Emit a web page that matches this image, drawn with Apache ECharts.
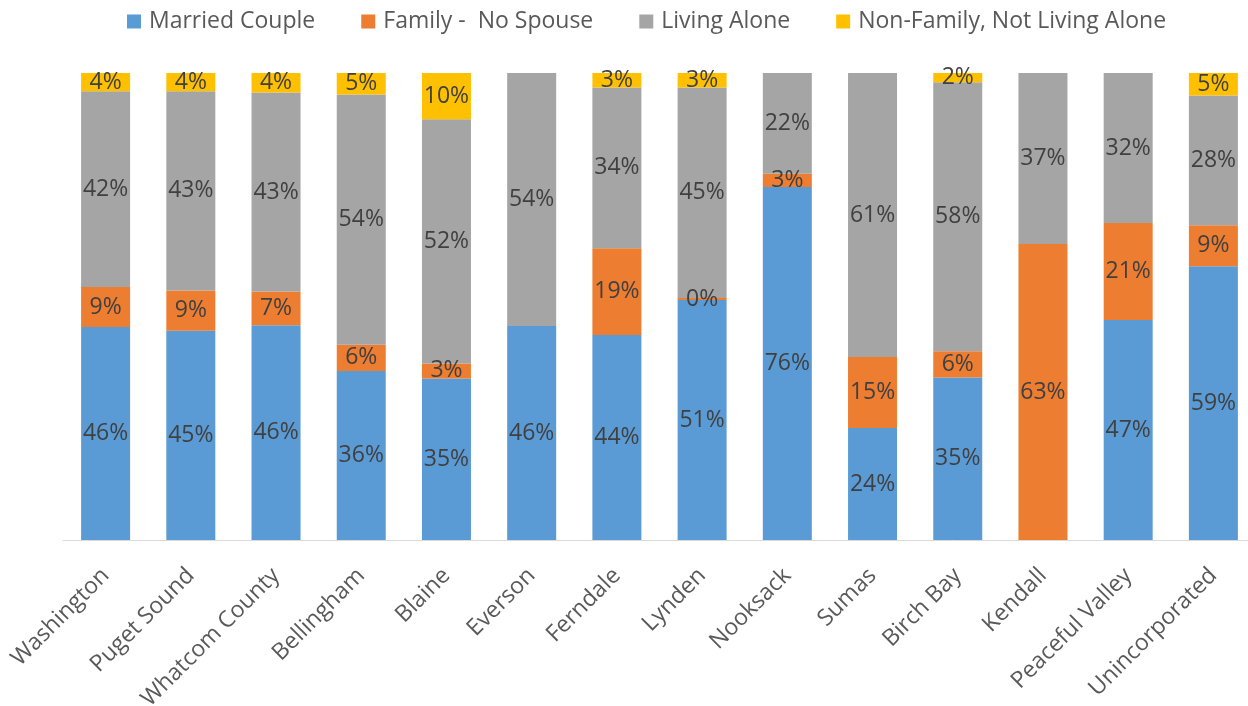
<!DOCTYPE html>
<html>
<head>
<meta charset="utf-8">
<script src="https://cdn.jsdelivr.net/npm/echarts@6/dist/echarts.min.js"></script>
<style>
html,body{margin:0;padding:0;background:#fff;}
#chart{width:1248px;height:706px;}
</style>
</head>
<body>
<div id="chart"></div>
<script>
var categories = ["Washington","Puget Sound","Whatcom County","Bellingham","Blaine","Everson","Ferndale","Lynden","Nooksack","Sumas","Birch Bay","Kendall","Peaceful Valley","Unincorporated"];
var marriedCouple = [45.6, 44.8, 46.0, 36.2, 34.6, 45.8, 43.9, 51.4, 75.6, 24.0, 34.8, null, 47.1, 58.6];
var familyNoSpouse = [8.6, 8.6, 7.2, 5.6, 3.2, null, 18.6, 0.4, 2.8, 15.2, 5.6, 63.4, 20.8, 8.8];
var livingAlone = [41.9, 42.7, 42.6, 53.6, 52.3, 54.2, 34.4, 45.1, 21.6, 60.8, 57.6, 36.6, 32.1, 27.8];
var nonFamily = [3.9, 3.9, 4.2, 4.6, 9.9, null, 3.1, 3.1, null, null, 2.0, null, null, 4.8];
var seriesNames = ["Married Couple", "Family -  No Spouse", "Living Alone", "Non-Family, Not Living Alone"];
var colors = ["#5B9BD5", "#ED7D31", "#A5A5A5", "#FFC000"];

var font = "'Open Sans', 'Noto Sans', sans-serif";
var chart = echarts.init(document.getElementById('chart'));
function mk(name, data, color) {
  return {
    name: name, type: 'bar', stack: 'total', data: data, barWidth: 49,
    itemStyle: { color: color },
    label: {
      show: true, position: 'inside', color: '#404040', fontSize: 23, fontFamily: font,
      formatter: function (p) { return (p.value == null) ? '' : Math.round(p.value) + '%'; }
    }
  };
}
chart.setOption({
  animation: false,
  color: colors,
  legend: {
    top: 5, left: 122, itemWidth: 14, itemHeight: 14, itemGap: 46,
    icon: 'rect',
    textStyle: { color: '#595959', fontSize: 23, fontFamily: font, padding: [0, 0, 0, 3] },
    data: seriesNames
  },
  grid: { left: 63, top: 73, width: 1193, height: 467, containLabel: false, outerBoundsMode: 'none' },
  xAxis: {
    type: 'category', data: categories,
    axisLine: { lineStyle: { color: '#D9D9D9', width: 1 } },
    axisTick: { show: false },
    axisLabel: { rotate: 45, color: '#595959', fontSize: 23, fontFamily: font, margin: 32, interval: 0 }
  },
  yAxis: { type: 'value', min: 0, max: 100, show: false, splitLine: { show: false } },
  series: [
    mk(seriesNames[0], marriedCouple, colors[0]),
    mk(seriesNames[1], familyNoSpouse, colors[1]),
    mk(seriesNames[2], livingAlone, colors[2]),
    mk(seriesNames[3], nonFamily, colors[3])
  ]
});
</script>
</body>
</html>
